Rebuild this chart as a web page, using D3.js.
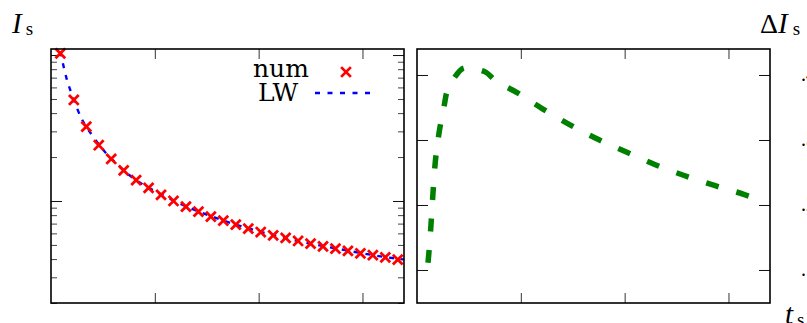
<!DOCTYPE html>
<html>
<head>
<meta charset="utf-8">
<script src="https://cdn.jsdelivr.net/npm/d3@7"></script>
<style>
  body { margin: 0; background: #fff; }
  text { font-family: "Liberation Serif", "DejaVu Serif", serif; }
  text.leg { font-family: "DejaVu Serif", serif; }
</style>
</head>
<body>
<script>
// left panel: I_s, numerical points (red crosses)
const numT = [0.09, 0.22, 0.34, 0.46, 0.58, 0.70, 0.82, 0.94, 1.06, 1.18, 1.30, 1.42, 1.54, 1.66,
  1.78, 1.90, 2.02, 2.14, 2.26, 2.38, 2.50, 2.62, 2.74, 2.86, 2.98, 3.10, 3.22, 3.34];
const numI = [10.27, 4.92, 3.23, 2.41, 1.94, 1.62, 1.39, 1.23, 1.10, 1.00, 0.914, 0.845, 0.781, 0.733,
  0.688, 0.646, 0.613, 0.582, 0.558, 0.532, 0.510, 0.489, 0.471, 0.455, 0.438, 0.425, 0.411, 0.396];

// left panel: LW curve (blue dashed)
const lwT = [0.09, 0.15, 0.2, 0.3, 0.4, 0.5, 0.6, 0.8, 1.0, 1.3, 1.6, 2.0, 2.4, 2.8, 3.2, 3.4];
const lwI = [10.6, 6.9, 5.4, 3.6, 2.8, 2.25, 1.89, 1.42, 1.17, 0.92, 0.76, 0.62, 0.528, 0.465, 0.415, 0.397];

// right panel: Delta I_s (green dashed)
const dT = [0.106, 0.130, 0.149, 0.170, 0.207, 0.260, 0.284, 0.365, 0.462, 0.654, 0.75, 0.964,
  1.209, 1.478, 1.743, 2.022, 2.295, 2.580, 2.865, 3.154, 3.209];
const dI = [0.111, 0.158, 0.206, 0.255, 0.305, 0.351, 0.372, 0.397, 0.411, 0.405, 0.392, 0.373,
  0.348, 0.323, 0.301, 0.281, 0.262, 0.245, 0.230, 0.216, 0.213];

const tTicks = [1, 2, 3];
const dTicks = [0.1, 0.2, 0.3, 0.4];
const dTickLabels = [".1", ".2", ".3", ".4"];
const legendLabels = ["num", "LW"];

const W = 807, H = 323;
const yTop = 49, yBot = 303;

const svg = d3.select("body").append("svg")
  .attr("width", W).attr("height", H);

const defs = svg.append("defs");

// ---------- left panel ----------
const xL = d3.scaleLinear().domain([0, 3.4]).range([51, 404]);
const yL = d3.scaleLog().domain([0.2, 11]).range([yBot, yTop]);

const allLog = yL.ticks();
const major = allLog.filter(v => Math.abs(Math.log10(v) - Math.round(Math.log10(v))) < 1e-9);
const minor = allLog.filter(v => !major.includes(v));

function ticks(g, axis, color) {
  g.call(axis);
  g.select(".domain").remove();
  g.selectAll(".tick line").attr("stroke", color).attr("stroke-width", 1);
  g.selectAll(".tick text").remove();
}

const left = svg.append("g");
left.append("g").attr("transform", `translate(51,0)`)
  .call(g => ticks(g, d3.axisRight(yL).tickValues(major).tickSize(11), "#111"));
left.append("g").attr("transform", `translate(51,0)`)
  .call(g => ticks(g, d3.axisRight(yL).tickValues(minor).tickSize(6), "#444"));
left.append("g").attr("transform", `translate(404,0)`)
  .call(g => ticks(g, d3.axisLeft(yL).tickValues(major).tickSize(11), "#111"));
left.append("g").attr("transform", `translate(404,0)`)
  .call(g => ticks(g, d3.axisLeft(yL).tickValues(minor).tickSize(6), "#444"));
left.append("g").attr("transform", `translate(0,${yTop})`)
  .call(g => ticks(g, d3.axisBottom(xL).tickValues(tTicks).tickSize(10), "#333"));
left.append("g").attr("transform", `translate(0,${yBot})`)
  .call(g => ticks(g, d3.axisTop(xL).tickValues(tTicks).tickSize(10), "#333"));

defs.append("clipPath").attr("id", "clipL")
  .append("rect").attr("x", 51).attr("y", yTop).attr("width", 353).attr("height", yBot - yTop);

const lwData = lwT.map((t, i) => [t, lwI[i]]);
left.append("path")
  .datum(lwData)
  .attr("clip-path", "url(#clipL)")
  .attr("fill", "none")
  .attr("stroke", "#0000ff")
  .attr("stroke-width", 2.4)
  .attr("stroke-dasharray", "5,7")
  .attr("d", d3.line().curve(d3.curveMonotoneX).x(d => xL(d[0])).y(d => yL(d[1])));

const cross = d3.symbol(d3.symbolTimes, 64);
left.append("g")
  .selectAll("path")
  .data(numT.map((t, i) => [t, numI[i]]))
  .join("path")
    .attr("transform", d => `translate(${xL(d[0])},${yL(d[1])})`)
    .attr("d", cross)
    .attr("fill", "none")
    .attr("stroke", "#ff0000")
    .attr("stroke-width", 2.8);

left.append("rect")
  .attr("x", 51).attr("y", yTop).attr("width", 353).attr("height", yBot - yTop)
  .attr("fill", "none").attr("stroke", "#000").attr("stroke-width", 1.6);

// legend
const leg = left.append("g").attr("font-size", 25);
leg.append("text").attr("class", "leg").attr("x", 253).attr("y", 77).text(legendLabels[0]);
leg.append("text").attr("class", "leg").attr("x", 258).attr("y", 101).text(legendLabels[1]);
leg.append("path")
  .attr("transform", "translate(346,72)")
  .attr("d", cross)
  .attr("fill", "none").attr("stroke", "#ff0000").attr("stroke-width", 2.8);
leg.append("line")
  .attr("x1", 315).attr("x2", 377).attr("y1", 93).attr("y2", 93)
  .attr("stroke", "#0000ff").attr("stroke-width", 2.4).attr("stroke-dasharray", "5,7.5");

// I_s label
const lab1 = svg.append("text").attr("x", 12).attr("y", 33);
lab1.append("tspan").attr("font-style", "italic").attr("font-size", 29).text("I");
lab1.append("tspan").attr("font-size", 19).attr("dx", 4).attr("dy", 2).text("s");

// ---------- right panel ----------
const xR = d3.scaleLinear().domain([0, 3.4]).range([417, 770]);
const yR = d3.scaleLinear().domain([0.0492, 0.44]).range([yBot, yTop]);

const right = svg.append("g");
right.append("g").attr("transform", `translate(417,0)`)
  .call(g => ticks(g, d3.axisRight(yR).tickValues(dTicks).tickSize(11), "#111"));
right.append("g").attr("transform", `translate(770,0)`)
  .call(g => ticks(g, d3.axisLeft(yR).tickValues(dTicks).tickSize(11), "#111"));
right.append("g").attr("transform", `translate(0,${yTop})`)
  .call(g => ticks(g, d3.axisBottom(xR).tickValues(tTicks).tickSize(10), "#333"));
right.append("g").attr("transform", `translate(0,${yBot})`)
  .call(g => ticks(g, d3.axisTop(xR).tickValues(tTicks).tickSize(10), "#333"));

defs.append("clipPath").attr("id", "clipR")
  .append("rect").attr("x", 417).attr("y", yTop).attr("width", 353).attr("height", yBot - yTop);

right.append("path")
  .datum(dT.map((t, i) => [t, dI[i]]))
  .attr("clip-path", "url(#clipR)")
  .attr("fill", "none")
  .attr("stroke", "#008000")
  .attr("stroke-width", 5.5)
  .attr("stroke-dasharray", "13,18.5")
  .attr("d", d3.line().curve(d3.curveMonotoneX).x(d => xR(d[0])).y(d => yR(d[1])));

right.append("rect")
  .attr("x", 417).attr("y", yTop).attr("width", 353).attr("height", yBot - yTop)
  .attr("fill", "none").attr("stroke", "#000").attr("stroke-width", 1.6);

// right tick labels (cut off at the page edge)
right.append("g").attr("font-size", 20)
  .selectAll("text")
  .data(dTicks)
  .join("text")
    .attr("x", 801)
    .attr("y", d => yR(d) + 6)
    .text((d, i) => dTickLabels[i]);

// Delta I_s label
const lab2 = svg.append("text").attr("x", 760).attr("y", 33);
lab2.append("tspan").attr("font-size", 28).text("Δ");
lab2.append("tspan").attr("font-style", "italic").attr("font-size", 29).text("I");
lab2.append("tspan").attr("font-size", 19).attr("dx", 5).attr("dy", 2).text("s");

// t_s label
const lab3 = svg.append("text").attr("x", 785).attr("y", 324);
lab3.append("tspan").attr("font-style", "italic").attr("font-size", 29).text("t");
lab3.append("tspan").attr("font-size", 19).attr("dx", 4).attr("dy", 2).text("s");
</script>
</body>
</html>
